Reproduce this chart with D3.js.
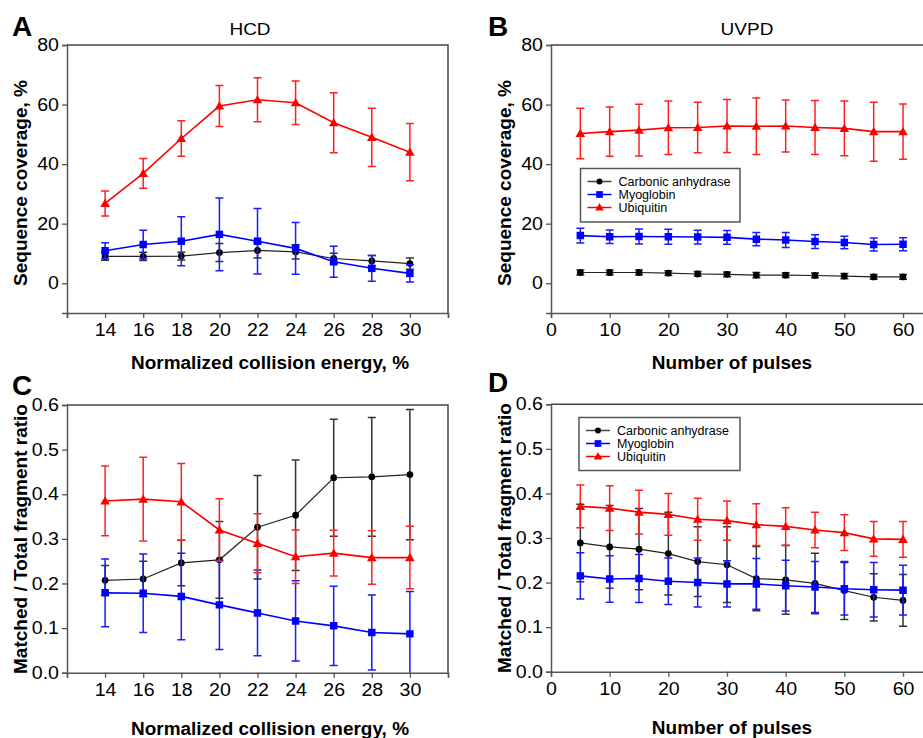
<!DOCTYPE html>
<html>
<head>
<meta charset="utf-8">
<script src="https://cdn.jsdelivr.net/npm/d3@7"></script>
<style>
  body { margin: 0; background: #fff; }
  svg { display: block; }
  text { font-family: "Liberation Sans", Arial, Helvetica, sans-serif; fill: #000; }
</style>
</head>
<body>
<svg id="fig" width="923" height="738"></svg>
<script>
// ---- data ----------------------------------------------------------------
const energy = [14, 16, 18, 20, 22, 24, 26, 28, 30];
const pulses = [5, 10, 15, 20, 25, 30, 35, 40, 45, 50, 55, 60];
const proteins = ["Carbonic anhydrase", "Myoglobin", "Ubiquitin"];

// HCD: sequence coverage, % (mean and error)
const hcdCovCA    = [9.0, 9.0, 9.1, 10.3, 11.0, 10.5, 8.3, 7.5, 6.6];
const hcdCovCAErr = [1.3, 1.4, 1.3, 3.0, 2.5, 2.4, 1.8, 1.8, 1.9];
const hcdCovMb    = [10.9, 13.0, 14.1, 16.4, 14.1, 11.7, 7.2, 5.0, 3.3];
const hcdCovMbErr = [2.7, 4.8, 8.2, 12.2, 11.0, 8.7, 5.2, 4.3, 2.9];
const hcdCovUb    = [26.8, 36.9, 48.6, 59.5, 61.6, 60.6, 53.9, 49.0, 44.0];
const hcdCovUbErr = [4.2, 5.0, 6.0, 6.9, 7.4, 7.3, 10.1, 9.8, 9.6];

// UVPD: sequence coverage, %
const uvpdCovCA    = [3.6, 3.6, 3.6, 3.4, 3.1, 3.0, 2.7, 2.7, 2.6, 2.4, 2.1, 2.1];
const uvpdCovCAErr = [0.8, 0.8, 0.8, 0.8, 0.8, 0.8, 0.9, 0.8, 0.8, 0.9, 0.8, 0.8];
const uvpdCovMb    = [16.0, 15.6, 15.7, 15.6, 15.5, 15.4, 14.8, 14.5, 14.0, 13.7, 13.0, 13.1];
const uvpdCovMbErr = [2.5, 2.3, 2.5, 2.5, 2.3, 2.3, 2.2, 2.5, 2.3, 2.1, 2.2, 2.2];
const uvpdCovUb    = [50.3, 50.9, 51.4, 52.2, 52.3, 52.8, 52.7, 52.8, 52.3, 52.0, 50.9, 50.9];
const uvpdCovUbErr = [8.5, 8.3, 8.7, 9.0, 8.5, 8.9, 9.5, 8.7, 9.1, 9.2, 9.9, 9.3];

// HCD: matched / total fragment ratio
const hcdRatioCA    = [0.207, 0.210, 0.246, 0.253, 0.326, 0.353, 0.437, 0.439, 0.444];
const hcdRatioCAErr = [0.033, 0.040, 0.051, 0.086, 0.116, 0.124, 0.131, 0.133, 0.146];
const hcdRatioMb    = [0.179, 0.178, 0.171, 0.152, 0.134, 0.116, 0.105, 0.090, 0.087];
const hcdRatioMbErr = [0.076, 0.088, 0.097, 0.100, 0.096, 0.090, 0.089, 0.084, 0.095];
const hcdRatioUb    = [0.385, 0.389, 0.383, 0.320, 0.290, 0.260, 0.268, 0.258, 0.258];
const hcdRatioUbErr = [0.078, 0.094, 0.086, 0.070, 0.066, 0.060, 0.051, 0.060, 0.070];

// UVPD: matched / total fragment ratio
const uvpdRatioCA    = [0.289, 0.280, 0.275, 0.265, 0.247, 0.240, 0.209, 0.206, 0.198, 0.182, 0.167, 0.160];
const uvpdRatioCAErr = [0.087, 0.093, 0.091, 0.093, 0.078, 0.085, 0.072, 0.077, 0.068, 0.065, 0.053, 0.058];
const uvpdRatioMb    = [0.215, 0.208, 0.209, 0.203, 0.200, 0.197, 0.197, 0.193, 0.190, 0.186, 0.184, 0.183];
const uvpdRatioMbErr = [0.052, 0.052, 0.054, 0.052, 0.055, 0.052, 0.057, 0.057, 0.057, 0.059, 0.061, 0.056];
const uvpdRatioUb    = [0.371, 0.367, 0.358, 0.353, 0.342, 0.339, 0.330, 0.326, 0.318, 0.312, 0.298, 0.297];
const uvpdRatioUbErr = [0.048, 0.050, 0.049, 0.047, 0.047, 0.044, 0.047, 0.042, 0.040, 0.040, 0.039, 0.040];

// tick values
const energyTicks   = [12, 14, 16, 18, 20, 22, 24, 26, 28, 30, 32];
const pulseTicks    = [0, 10, 20, 30, 40, 50, 60];
const coverageTicks = [0, 20, 40, 60, 80];
const ratioTicks    = [0.0, 0.1, 0.2, 0.3, 0.4, 0.5, 0.6];

// ---- styles --------------------------------------------------------------
const seriesStyle = [
  { name: proteins[0], color: "#000000", line: "#222222", err: "#333333", width: 1.2, symbol: d3.symbolCircle,   size: 36 },
  { name: proteins[1], color: "#0000ff", line: "#0000ff", err: "#1a1aff", width: 1.6, symbol: d3.symbolSquare,   size: 56 },
  { name: proteins[2], color: "#ff0000", line: "#ff0000", err: "#ff2020", width: 1.6, symbol: d3.symbolTriangle, size: 40 }
];

const svg = d3.select("#fig");
const TICK_SX = 1.12;   // horizontal widening of axis numbers

function stretchedText(parent, x, y, str, opts) {
  const t = parent.append("text")
    .attr("transform", `translate(${x},${y}) scale(${opts.sx || 1},1)`)
    .attr("text-anchor", opts.anchor || "middle")
    .style("font-size", opts.size + "px")
    .style("font-weight", opts.bold ? "bold" : "normal")
    .text(str);
  return t;
}

function styleAxis(g) {
  g.select(".domain").attr("stroke", "#555").attr("stroke-width", 1.5);
  g.selectAll(".tick line").attr("stroke", "#555").attr("stroke-width", 1.3);
  g.selectAll(".tick text")
    .style("font-size", "17.5px")
    .style("font-family", '"Liberation Sans", Arial, Helvetica, sans-serif')
    .attr("fill", "#000")
    .each(function () {
      const t = d3.select(this);
      const x0 = +t.attr("x") || 0;
      t.attr("x", x0 / TICK_SX).attr("transform", `scale(${TICK_SX},1)`);
    });
}

function drawPanel(cfg) {
  const g = svg.append("g");
  const x = d3.scaleLinear().domain(cfg.xDomain).range([cfg.left, cfg.right]);
  const y = d3.scaleLinear().domain(cfg.yDomain).range([cfg.bottom, cfg.top]);

  const clipId = "clip-" + cfg.letter;
  svg.append("clipPath").attr("id", clipId)
    .append("rect")
    .attr("x", cfg.left).attr("y", cfg.top)
    .attr("width", cfg.right - cfg.left).attr("height", cfg.bottom - cfg.top);

  // box: top and right edges
  g.append("path")
    .attr("d", `M${cfg.left},${cfg.top}H${cfg.right}V${cfg.bottom}`)
    .attr("fill", "none").attr("stroke", "#444").attr("stroke-width", 1.5);

  // axes
  const labelled = new Set(cfg.xLabelled);
  const xAxis = d3.axisBottom(x).tickValues(cfg.xTicks).tickSize(5).tickPadding(6)
    .tickFormat(d => labelled.has(d) ? d : "");
  g.append("g").attr("transform", `translate(0,${cfg.bottom})`).call(xAxis).call(styleAxis);

  const yAxis = d3.axisLeft(y).tickValues(cfg.yTicks).tickSize(5).tickPadding(3)
    .tickFormat(cfg.yFormat);
  g.append("g").attr("transform", `translate(${cfg.left},0)`).call(yAxis).call(styleAxis);

  // series
  const plot = g.append("g").attr("clip-path", `url(#${clipId})`);
  cfg.series.forEach((s, i) => {
    const st = seriesStyle[i];
    const pts = cfg.xs.map((xv, k) => ({ x: xv, v: s.values[k], e: s.errs[k] }));
    const sg = plot.append("g");

    // error bars
    const eb = sg.append("g").attr("stroke", st.err).attr("stroke-width", 1.5).attr("fill", "none");
    pts.forEach(p => {
      const px = x(p.x), y1 = y(p.v + p.e), y0 = y(p.v - p.e);
      eb.append("path").attr("d", `M${px},${y0}V${y1}M${px - 4},${y1}H${px + 4}M${px - 4},${y0}H${px + 4}`);
    });

    // connecting line
    sg.append("path").datum(pts)
      .attr("fill", "none").attr("stroke", st.line).attr("stroke-width", st.width)
      .attr("d", d3.line().x(p => x(p.x)).y(p => y(p.v)));

    // markers
    sg.selectAll("path.mk").data(pts).join("path").attr("class", "mk")
      .attr("transform", p => `translate(${x(p.x)},${y(p.v) + (st.symbol === d3.symbolTriangle ? 0.8 : 0)})`)
      .attr("d", d3.symbol().type(st.symbol).size(st.size))
      .attr("fill", st.color);
  });

  // panel letter
  svg.append("text").attr("x", cfg.letterX).attr("y", cfg.letterY)
    .style("font-size", "28px").style("font-weight", "bold").text(cfg.letter);

  // title
  if (cfg.title) stretchedText(svg, cfg.titleX, 35, cfg.title, { size: 17, sx: 1.12 });

  // axis titles
  stretchedText(svg, cfg.xLabelX, cfg.xLabelY, cfg.xLabel, { size: 17.5, sx: 1.085, bold: true });
  svg.append("text")
    .attr("transform", `translate(${cfg.yLabelX},${cfg.yLabelY}) rotate(-90)`)
    .attr("text-anchor", "middle")
    .style("font-size", "19px").style("font-weight", "bold")
    .text(cfg.yLabel);

  if (cfg.legend) drawLegend(cfg.legend);
}

function drawLegend(box) {
  const g = svg.append("g");
  g.append("rect").attr("x", box.x).attr("y", box.y).attr("width", box.w).attr("height", box.h)
    .attr("fill", "#fff").attr("stroke", "#555").attr("stroke-width", 1.5);
  seriesStyle.forEach((st, i) => {
    const yy = box.y + 13 + i * 13;
    g.append("line").attr("x1", box.x + 7).attr("x2", box.x + 31).attr("y1", yy).attr("y2", yy)
      .attr("stroke", i === 0 ? "#444" : st.line).attr("stroke-width", 1.5);
    g.append("path")
      .attr("transform", `translate(${box.x + 19},${yy + (st.symbol === d3.symbolTriangle ? 0.5 : 0)})`)
      .attr("d", d3.symbol().type(st.symbol).size(st.size * 0.8))
      .attr("fill", st.color);
    g.append("text").attr("x", box.x + 38).attr("y", yy + 4.5)
      .style("font-size", "12.5px").text(st.name);
  });
}

const fmtInt = d3.format("d");
const fmtRatio = d3.format(".1f");

// A: HCD sequence coverage
drawPanel({
  letter: "A", letterX: 12, letterY: 36,
  title: "HCD", titleX: 250,
  left: 67, right: 448, top: 45, bottom: 313,
  xDomain: [12, 32], yDomain: [-10, 80],
  xTicks: energyTicks, xLabelled: energy, yTicks: coverageTicks, yFormat: fmtInt,
  xs: energy,
  series: [
    { values: hcdCovCA, errs: hcdCovCAErr },
    { values: hcdCovMb, errs: hcdCovMbErr },
    { values: hcdCovUb, errs: hcdCovUbErr }
  ],
  xLabel: "Normalized collision energy, %", xLabelX: 270, xLabelY: 369,
  yLabel: "Sequence coverage, %", yLabelX: 27, yLabelY: 183
});

// B: UVPD sequence coverage
drawPanel({
  letter: "B", letterX: 488, letterY: 36,
  title: "UVPD", titleX: 747,
  left: 551, right: 926.5, top: 45, bottom: 313,
  xDomain: [0, 64], yDomain: [-10, 80],
  xTicks: pulseTicks, xLabelled: pulseTicks, yTicks: coverageTicks, yFormat: fmtInt,
  xs: pulses,
  series: [
    { values: uvpdCovCA, errs: uvpdCovCAErr },
    { values: uvpdCovMb, errs: uvpdCovMbErr },
    { values: uvpdCovUb, errs: uvpdCovUbErr }
  ],
  xLabel: "Number of pulses", xLabelX: 732, xLabelY: 369,
  yLabel: "Sequence coverage, %", yLabelX: 511, yLabelY: 183,
  legend: { x: 580.5, y: 168.5, w: 159.5, h: 53.5 }
});

// C: HCD fragment ratio
drawPanel({
  letter: "C", letterX: 12, letterY: 395,
  left: 67, right: 448, top: 405, bottom: 672.7,
  xDomain: [12, 32], yDomain: [0, 0.6],
  xTicks: energyTicks, xLabelled: energy, yTicks: ratioTicks, yFormat: fmtRatio,
  xs: energy,
  series: [
    { values: hcdRatioCA, errs: hcdRatioCAErr },
    { values: hcdRatioMb, errs: hcdRatioMbErr },
    { values: hcdRatioUb, errs: hcdRatioUbErr }
  ],
  xLabel: "Normalized collision energy, %", xLabelX: 270, xLabelY: 734.5,
  yLabel: "Matched / Total fragment ratio", yLabelX: 27, yLabelY: 539
});

// D: UVPD fragment ratio
drawPanel({
  letter: "D", letterX: 488, letterY: 392,
  left: 551, right: 926.5, top: 404.3, bottom: 671.7,
  xDomain: [0, 64], yDomain: [0, 0.6],
  xTicks: pulseTicks, xLabelled: pulseTicks, yTicks: ratioTicks, yFormat: fmtRatio,
  xs: pulses,
  series: [
    { values: uvpdRatioCA, errs: uvpdRatioCAErr },
    { values: uvpdRatioMb, errs: uvpdRatioMbErr },
    { values: uvpdRatioUb, errs: uvpdRatioUbErr }
  ],
  xLabel: "Number of pulses", xLabelX: 732, xLabelY: 734,
  yLabel: "Matched / Total fragment ratio", yLabelX: 511, yLabelY: 538,
  legend: { x: 579, y: 417.5, w: 161, h: 53 }
});
</script>
</body>
</html>
